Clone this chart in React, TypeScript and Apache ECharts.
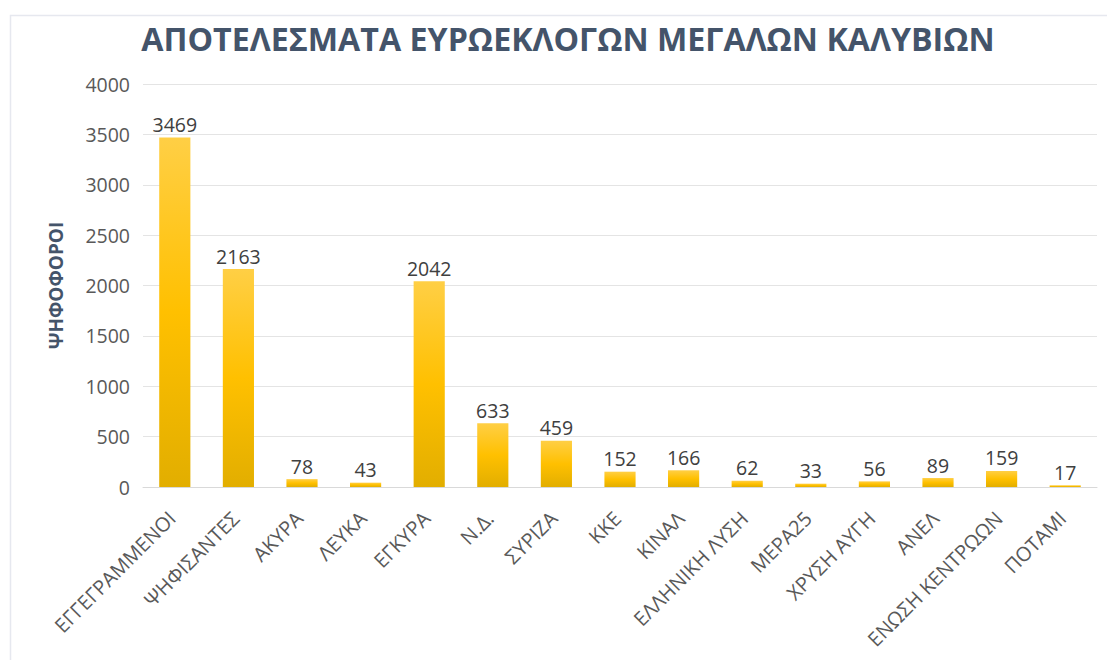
import React, { useEffect, useRef } from "react";
import * as echarts from "echarts";

const categories = [
  "ΕΓΓΕΓΡΑΜΜΕΝΟΙ",
  "ΨΗΦΙΣΑΝΤΕΣ",
  "ΑΚΥΡΑ",
  "ΛΕΥΚΑ",
  "ΕΓΚΥΡΑ",
  "Ν.Δ.",
  "ΣΥΡΙΖΑ",
  "ΚΚΕ",
  "ΚΙΝΑΛ",
  "ΕΛΛΗΝΙΚΗ ΛΥΣΗ",
  "ΜΕΡΑ25",
  "ΧΡΥΣΗ ΑΥΓΗ",
  "ΑΝΕΛ",
  "ΕΝΩΣΗ ΚΕΝΤΡΩΩΝ",
  "ΠΟΤΑΜΙ",
];
const votes = [3469, 2163, 78, 43, 2042, 633, 459, 152, 166, 62, 33, 56, 89, 159, 17];
const title = "ΑΠΟΤΕΛΕΣΜΑΤΑ ΕΥΡΩΕΚΛΟΓΩΝ ΜΕΓΑΛΩΝ ΚΑΛΥΒΙΩΝ";
const yAxisName = "ΨΗΦΟΦΟΡΟΙ";

export default function App() {
  const ref = useRef<HTMLDivElement>(null);
  useEffect(() => {
    if (!ref.current) return;
    const chart = echarts.init(ref.current, null, { renderer: "svg" });
    chart.setOption({
      animation: false,
      backgroundColor: "#ffffff",
      textStyle: { fontFamily: "Open Sans" },
      graphic: [
        {
          type: "rect",
          shape: { x: 10.5, y: 15.5, width: 1110, height: 700 },
          style: { fill: "none", stroke: "#E6E8EF", lineWidth: 1.5 },
          silent: true,
        },
        {
          type: "text",
          x: 568,
          y: 38,
          style: {
            text: title,
            fontFamily: "Open Sans",
            fontSize: 32.2,
            fontWeight: "bold",
            fill: "#44546A",
            align: "center",
            verticalAlign: "middle",
          },
        },
      ],
      grid: { left: 143, right: 10, top: 84, bottom: 173, containLabel: false },
      xAxis: {
        type: "category",
        data: categories,
        axisTick: { show: false },
        axisLine: { lineStyle: { color: "#D9D9D9" } },
        axisLabel: {
          rotate: 45,
          interval: 0,
          fontSize: 20,
          color: "#595959",
          margin: 25,
          padding: [0, 4, 0, 0],
        },
      },
      yAxis: {
        type: "value",
        min: 0,
        max: 4000,
        interval: 500,
        name: yAxisName,
        nameLocation: "middle",
        nameGap: 78,
        nameRotate: 90,
        nameTextStyle: {
          fontSize: 19,
          fontWeight: "bold",
          color: "#44546A",
        },
        axisLine: { show: false },
        axisTick: { show: false },
        axisLabel: {
          fontSize: 19.5,
          color: "#595959",
          margin: 13,
          formatter: (v: number) => String(v),
        },
        splitLine: { lineStyle: { color: "#E4E4E4" } },
      },
      series: [
        {
          type: "bar",
          data: votes,
          barWidth: "49%",
          itemStyle: {
            color: new echarts.graphic.LinearGradient(0, 0, 0, 1, [
              { offset: 0, color: "#FFCF45" },
              { offset: 0.5, color: "#FFC000" },
              { offset: 1, color: "#E2AE00" },
            ]),
          },
          label: {
            show: true,
            position: "top",
            distance: 3,
            fontSize: 19.5,
            color: "#404040",
          },
        },
      ],
    });
    return () => chart.dispose();
  }, []);
  return (
    <div
      ref={ref}
      style={{ position: "absolute", left: 0, top: 0, width: 1107, height: 660 }}
    />
  );
}
